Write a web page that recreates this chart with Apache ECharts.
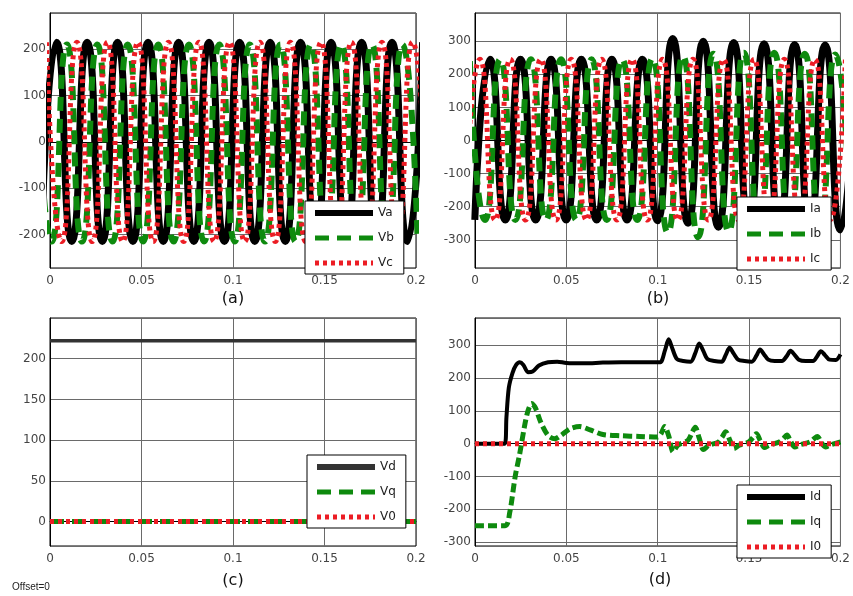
<!DOCTYPE html>
<html>
<head>
<meta charset="utf-8">
<script src="https://cdn.jsdelivr.net/npm/echarts@6/dist/echarts.min.js"></script>
<style>
html,body{margin:0;padding:0;background:#fff;}
#chart{width:853px;height:596px;}
</style>
</head>
<body>
<div id="chart"></div>
<script>
// ---------- DATA (time [s], value) ----------
const xTicks = [0, 0.05, 0.1, 0.15, 0.2];

// (a) phase voltages: extrema of each phase
const vaData = [[-0.0047,-215],[0.0036,215],[0.0119,-215],[0.0203,215],[0.0286,-215],[0.0369,215],[0.0453,-215],[0.0536,215],[0.0619,-215],[0.0703,215],[0.0786,-215],[0.0869,215],[0.0953,-215],[0.1036,215],[0.1119,-215],[0.1203,215],[0.1286,-215],[0.1369,215],[0.1453,-215],[0.1536,215],[0.1619,-215],[0.1703,215],[0.1786,-215],[0.1869,215],[0.1953,-215],[0.2036,215]];
const vbData = [[-0.0075,210],[0.0009,-215],[0.0092,210],[0.0175,-215],[0.0259,210],[0.0342,-215],[0.0425,210],[0.0509,-215],[0.0592,210],[0.0675,-215],[0.0759,210],[0.0842,-215],[0.0925,210],[0.1009,-215],[0.1092,210],[0.1175,-215],[0.1259,210],[0.1342,-215],[0.1425,210],[0.1509,-215],[0.1592,210],[0.1675,-215],[0.1759,210],[0.1842,-215],[0.1925,210],[0.2009,-215]];
const vcData = [[-0.0019,215],[0.0064,-215],[0.0147,215],[0.0231,-215],[0.0314,215],[0.0397,-215],[0.0481,215],[0.0564,-215],[0.0647,215],[0.0731,-215],[0.0814,215],[0.0897,-215],[0.0981,215],[0.1064,-215],[0.1147,215],[0.1231,-215],[0.1314,215],[0.1397,-215],[0.1481,215],[0.1564,-215],[0.1647,215],[0.1731,-215],[0.1814,215],[0.1897,-215],[0.1981,215],[0.2064,-215]];

// (b) phase currents
const iaData = [[-0.0001,-240],[0.0082,245],[0.0166,-240],[0.0249,245],[0.0332,-240],[0.0416,245],[0.0499,-240],[0.0582,245],[0.0666,-240],[0.0749,245],[0.0832,-240],[0.0916,245],[0.0999,-242],[0.1082,308],[0.1166,-250],[0.1249,300],[0.1332,-262],[0.1416,296],[0.1499,-255],[0.1582,292],[0.1666,-258],[0.1749,290],[0.1832,-260],[0.1916,288],[0.1999,-270],[0.2082,285]];
const ibData = [[-0.0028,240],[0.0055,-240],[0.0138,245],[0.0221,-240],[0.0305,245],[0.0388,-240],[0.0471,245],[0.0555,-240],[0.0638,245],[0.0721,-240],[0.0805,245],[0.0888,-240],[0.0971,248],[0.1055,-278],[0.1138,255],[0.1221,-292],[0.1305,262],[0.1388,-275],[0.1471,265],[0.1555,-268],[0.1638,265],[0.1721,-262],[0.1805,262],[0.1888,-258],[0.1971,260],[0.2055,-255]];
const icData = [[-0.0056,-240],[0.0027,245],[0.0110,-240],[0.0193,245],[0.0277,-240],[0.0360,245],[0.0443,-240],[0.0527,245],[0.0610,-240],[0.0693,245],[0.0777,-240],[0.0860,245],[0.0943,-240],[0.1027,245],[0.1110,-240],[0.1193,245],[0.1277,-240],[0.1360,245],[0.1443,-240],[0.1527,245],[0.1610,-240],[0.1693,245],[0.1777,-240],[0.1860,245],[0.1943,-240],[0.2027,245]];

// (c) dq0 voltages
const vdData = [[0,222],[0.05,222],[0.1,222],[0.15,222],[0.2,222]];
const vqData = [[0,0],[0.2,0]];
const v0Data = [[0,0],[0.2,0]];

// (d) dq0 currents
const idData = [[0,0],[0.0163,0],[0.0172,80],[0.0185,170],[0.0205,215],[0.0225,240],[0.0245,248],[0.0265,240],[0.029,218],[0.0315,220],[0.035,238],[0.04,248],[0.045,250],[0.05,246],[0.06,245],[0.07,247],[0.08,248],[0.09,248],[0.1,248],
  [0.1015,248],[0.104,285],[0.106,318],[0.108,290],[0.1105,258],[0.114,252],[0.118,250],[0.1205,275],[0.1227,305],[0.125,282],[0.1272,258],[0.131,252],[0.135,250],[0.1372,270],[0.1393,292],[0.1415,275],[0.144,256],[0.1475,252],[0.1515,250],[0.154,268],[0.156,287],[0.1582,272],[0.1605,256],[0.164,252],[0.168,252],[0.1705,266],[0.1727,283],[0.175,270],[0.1772,256],[0.181,252],[0.185,252],[0.1872,266],[0.1893,282],[0.1915,270],[0.194,256],[0.1975,255],[0.2,272]];
const iqData = [[0,-250],[0.0165,-250],[0.019,-210],[0.022,-100],[0.0245,-30],[0.027,50],[0.029,100],[0.031,122],[0.033,110],[0.036,65],[0.04,25],[0.0437,15],[0.047,25],[0.052,45],[0.0574,52],[0.063,42],[0.07,28],[0.08,24],[0.09,22],[0.1,20],
  [0.1018,30],[0.1038,52],[0.1062,20],[0.1084,-25],[0.111,-5],[0.1165,10],[0.1185,30],[0.1205,50],[0.1228,15],[0.125,-18],[0.128,-5],[0.1332,5],[0.1352,20],[0.1372,36],[0.1395,10],[0.1417,-15],[0.1445,-5],[0.1498,5],[0.152,18],[0.154,30],[0.1562,8],[0.1584,-12],[0.161,-5],[0.1665,5],[0.1687,15],[0.1707,26],[0.1729,5],[0.175,-10],[0.178,-3],[0.1832,5],[0.1853,14],[0.1873,22],[0.1895,4],[0.1917,-10],[0.195,-3],[0.2,5]];
const i0Data = [[0,0],[0.2,0]];

const panelNames = [['Va','Vb','Vc'],['Ia','Ib','Ic'],['Vd','Vq','V0'],['Id','Iq','I0']];
const captions = ['(a)','(b)','(c)','(d)'];
const yRanges = [[-272,278,100],[-385,385,100],[-30,250,50],[-312,383,100]];

// ---------- STYLE ----------
const BLACK = '#000000', GREEN = '#0e8a0e', RED = '#ec1c24';
const FONT = 'DejaVu Sans, Verdana, sans-serif';
const grids = [
  {left:50, top:13, width:366, height:255},
  {left:475, top:13, width:366, height:255},
  {left:50, top:318, width:366, height:228},
  {left:475, top:318, width:366, height:228}
];

const xAxes = grids.map((g,i)=>({
  type:'value', gridIndex:i, min:0, max:0.2, interval:0.05,
  axisLine:{show:true, lineStyle:{color:'#000', width:1}},
  axisTick:{show:false},
  splitLine:{show:true, lineStyle:{color:'#6a6a6a', width:1}},
  axisLabel:{color:'#444', fontSize:12, fontFamily:FONT, margin:7,
    formatter:v=>String(+v.toFixed(2))}
}));
const yAxes = yRanges.map((r,i)=>({
  type:'value', gridIndex:i, min:r[0], max:r[1], splitNumber:6,
  minInterval:r[2], maxInterval:r[2],
  axisLine:{show:true, lineStyle:{color:'#000', width:1}},
  axisTick:{show:false},
  splitLine:{show:true, lineStyle:{color:'#6a6a6a', width:1}},
  axisLabel:{color:'#444', fontSize:12, fontFamily:FONT, margin:4, showMinLabel:false, showMaxLabel:false}
}));

function mk(name, data, gi, kind, w, smooth){
  const ls = {width:w, cap:'butt', join:'round'};
  if(kind===0){ ls.color=BLACK; ls.type='solid'; }
  if(kind===1){ ls.color=GREEN; ls.type=[14,8]; }
  if(kind===2){ ls.color=RED; ls.type=[4,4]; }
  return {name, type:'line', xAxisIndex:gi, yAxisIndex:gi, data, symbol:'none',
    smooth:smooth, lineStyle:ls, itemStyle:{color:ls.color}, animation:false, silent:true};
}

const series = [
  mk('Va', vaData, 0, 0, 7, 0.62), mk('Vb', vbData, 0, 1, 6, 0.62), mk('Vc', vcData, 0, 2, 5, 0.62),
  mk('Ia', iaData, 1, 0, 7, 0.62), mk('Ib', ibData, 1, 1, 6, 0.62), mk('Ic', icData, 1, 2, 5, 0.62),
  mk('Vd', vdData, 2, 0, 3.5, false), mk('Vq', vqData, 2, 1, 5, false), mk('V0', v0Data, 2, 2, 5, false),
  mk('Id', idData, 3, 0, 4, 0.3), mk('Iq', iqData, 3, 1, 5, 0.3), mk('I0', i0Data, 3, 2, 5, false)
];
series[6].lineStyle.color = '#333333';
series[10].lineStyle.type = [9,4];

const legendPos = [
  {left:305, top:201},
  {left:737, top:197},
  {left:307, top:455},
  {left:737, top:485}
];
const legendWidths = [6,5,5];
const legends = legendPos.map((p,i)=>({
  left:p.left, top:p.top, orient:'vertical', selectedMode:false,
  itemWidth:58, itemHeight:10, itemGap:13,
  padding:[6,10,5,7], backgroundColor:'#fff', borderColor:'#000', borderWidth:1, borderRadius:0,
  textStyle:{fontSize:12, color:'#222', fontFamily:FONT},
  itemStyle:{opacity:0, borderWidth:0},
  data: panelNames[i].map((n,k)=>({name:n, lineStyle:{width:legendWidths[k], type: k===1 ? [14,8] : 'inherit'}, itemStyle:{opacity:0, borderWidth:0}}))
}));

const capPos = [[233,299],[658,299],[233,581],[660,580]];
const graphics = captions.map((c,i)=>({
  type:'text', x:capPos[i][0], y:capPos[i][1], z:100,
  style:{text:c, fontSize:16, fontFamily:'DejaVu Sans, sans-serif', fill:'#111', align:'center', verticalAlign:'middle'}
}));
graphics.push({type:'text', x:12, y:587, z:100,
  style:{text:'Offset=0', fontSize:10, fontFamily:'Liberation Sans, Arial, sans-serif', fill:'#222', align:'left', verticalAlign:'middle'}});

const chart = echarts.init(document.getElementById('chart'), null, {renderer:'canvas'});
chart.setOption({
  animation:false,
  backgroundColor:'#fff',
  grid: grids.map(g=>Object.assign({show:true, borderColor:'#000', borderWidth:1, backgroundColor:'transparent'}, g)),
  xAxis:xAxes, yAxis:yAxes,
  legend:legends,
  series:series,
  graphic:graphics
});
</script>
</body>
</html>
